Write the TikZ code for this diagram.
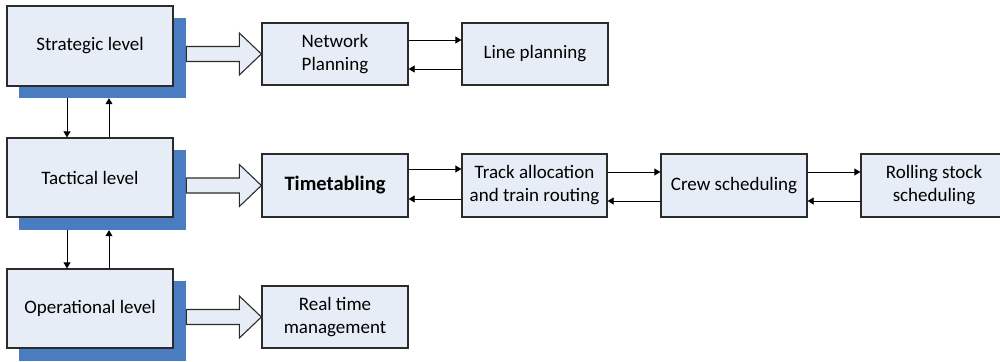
\documentclass[tikz,border=0pt]{standalone}
\usepackage{fontspec}
\setmainfont{Carlito}
\usetikzlibrary{arrows.meta,calc}
\definecolor{boxfill}{HTML}{E7EDF7}
\definecolor{shadowblue}{HTML}{4A7CC2}
\definecolor{edgegray}{HTML}{2B2B2B}
\tikzset{
  levelbox/.style={draw=edgegray,line width=1.3pt,fill=boxfill,minimum width=166pt,minimum height=80pt,inner sep=0pt,font=\fontsize{19}{23}\selectfont,align=center},
  shadowbox/.style={fill=shadowblue,minimum width=167pt,minimum height=80pt,inner sep=0pt},
  taskbox/.style={draw=edgegray,line width=1.3pt,fill=boxfill,minimum width=146pt,minimum height=62pt,inner sep=0pt,font=\fontsize{19}{23}\selectfont,align=center},
  conn/.style={draw=black,line width=0.8pt,-{Triangle[length=6pt,width=7pt]}},
  blockarrow/.pic={\draw[draw=edgegray,line width=1.1pt,fill=boxfill,line join=miter]
    (0,0) -- (-22,-21) -- (-22,-7.5) -- (-75,-7.5) -- (-75,7.5) -- (-22,7.5) -- (-22,21) -- cycle;}
}
\begin{document}
\begin{tikzpicture}[x=1pt,y=-1pt]
\useasboundingbox (0,0) rectangle (1000,361);
% level shadows
\node[shadowbox] (sshd) at (102.5,58) {};
\node[shadowbox] (tshd) at (102.5,190) {};
\node[shadowbox,minimum height=80pt] (oshd) at (102.5,321) {};
% level boxes
\node[levelbox] (strat) at (90,46) {Strategic level};
\node[levelbox,minimum height=79pt] (tact) at (90,177.5) {Tactical level};
\node[levelbox,minimum height=79pt] (oper) at (90,308.5) {Operational level};
% task boxes
\node[taskbox] (net) at (335,54) {Network\\Planning};
\node[taskbox] (line) at (535,54) {Line planning};
\node[taskbox,minimum height=63pt,font=\fontsize{20.5}{24}\selectfont\bfseries] (tt) at (335,185.5) {Timetabling};
\node[taskbox,minimum height=63pt,minimum width=145pt] (track) at (534.5,185.5) {Track allocation\\and train routing};
\node[taskbox,minimum height=63pt] (crew) at (734,185.5) {Crew scheduling};
\node[taskbox,minimum height=63pt] (roll) at (934,185.5) {Rolling stock\\scheduling};
\node[taskbox] (rt) at (335,317) {Real time\\management};
% block arrows
\pic at (net.west) {blockarrow};
\pic at (tt.west) {blockarrow};
\pic at (rt.west) {blockarrow};
% vertical connectors
\draw[conn] ([xshift=-23pt]sshd.south -| strat.south) -- ([xshift=-23pt]tact.north);
\draw[conn] ([xshift=19pt]tact.north) -- ([xshift=19pt]sshd.south -| strat.south);
\draw[conn] ([xshift=-23pt]tshd.south -| tact.south) -- ([xshift=-23pt]oper.north);
\draw[conn] ([xshift=19pt]oper.north) -- ([xshift=19pt]tshd.south -| tact.south);
% horizontal connectors
\draw[conn] ([yshift=14pt]net.east) -- ([yshift=14pt]net.east -| line.west);
\draw[conn] ([yshift=-15pt]line.west) -- ([yshift=-15pt]line.west -| net.east);
\draw[conn] ([yshift=16.5pt]tt.east) -- ([yshift=16.5pt]tt.east -| track.west);
\draw[conn] ([yshift=-13.5pt]track.west) -- ([yshift=-13.5pt]track.west -| tt.east);
\draw[conn] ([yshift=13.5pt]track.east) -- ([yshift=13.5pt]track.east -| crew.west);
\draw[conn] ([yshift=-15.5pt]crew.west) -- ([yshift=-15.5pt]crew.west -| track.east);
\draw[conn] ([yshift=13.5pt]crew.east) -- ([yshift=13.5pt]crew.east -| roll.west);
\draw[conn] ([yshift=-15.5pt]roll.west) -- ([yshift=-15.5pt]roll.west -| crew.east);
\end{tikzpicture}
\end{document}
